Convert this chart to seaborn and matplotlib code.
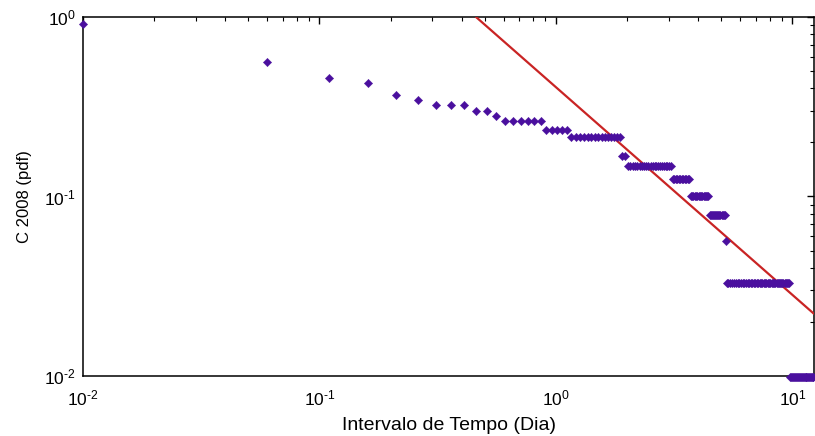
import numpy as np
import pandas as pd
import matplotlib
matplotlib.use("Agg")
import matplotlib.pyplot as plt
import seaborn as sns
from matplotlib.ticker import LogLocator, FuncFormatter, NullFormatter

# ---- data ----
single_x = [0.01, 0.06, 0.11, 0.16, 0.21, 0.26, 0.31, 0.36, 0.41, 0.46, 0.51, 0.56]
single_y = [0.91, 0.565, 0.46, 0.43, 0.37, 0.345, 0.325, 0.325, 0.325, 0.30, 0.30, 0.28]

run1_x = [0.61, 0.66, 0.71, 0.76, 0.81, 0.86]
run1_y = 0.262
run2_x = [0.91, 0.96, 1.01, 1.06, 1.11]
run2_y = 0.236
run3_x = [1.16, 1.21, 1.26, 1.31, 1.36, 1.41, 1.46, 1.51, 1.56, 1.61, 1.66, 1.71,
          1.76, 1.81, 1.86]
run3_y = 0.215
run4_x = [1.91, 1.96]
run4_y = 0.169
run5_x = [2.01, 2.06, 2.11, 2.16, 2.21, 2.26, 2.31, 2.36, 2.41, 2.46, 2.51, 2.56,
          2.61, 2.66, 2.71, 2.76, 2.81, 2.86, 2.91, 2.96, 3.01, 3.06]
run5_y = 0.147
run6_x = [3.11, 3.16, 3.21, 3.26, 3.31, 3.36, 3.41, 3.46, 3.51, 3.56, 3.61, 3.66]
run6_y = 0.125
run7_x = [3.71, 3.76, 3.81, 3.86, 3.91, 3.96, 4.01, 4.06, 4.11, 4.16, 4.21, 4.26,
          4.31, 4.36, 4.41]
run7_y = 0.1005
run8_x = [4.46, 4.51, 4.56, 4.61, 4.66, 4.71, 4.76, 4.81, 4.86, 4.91, 4.96, 5.01,
          5.06, 5.11, 5.16]
run8_y = 0.0788
run9_x = [5.21]
run9_y = 0.0563
run10_x = [5.26, 5.36, 5.46, 5.56, 5.66, 5.76, 5.86, 5.96, 6.06, 6.16, 6.26, 6.36,
           6.46, 6.56, 6.66, 6.76, 6.86, 6.96, 7.06, 7.16, 7.26, 7.36, 7.46, 7.56,
           7.66, 7.76, 7.86, 7.96, 8.06, 8.16, 8.26, 8.36, 8.46, 8.56, 8.66, 8.76,
           8.86, 8.96, 9.06, 9.16, 9.26, 9.36, 9.46, 9.56, 9.66]
run10_y = 0.0331
run11_x = [9.76, 9.86, 9.96, 10.06, 10.16, 10.26, 10.36, 10.46, 10.56, 10.66, 10.76,
           10.86, 10.96, 11.06, 11.16, 11.26, 11.36, 11.46, 11.56, 11.66, 11.76,
           11.86, 11.96, 12.06, 12.16, 12.26]
run11_y = 0.0099

# fitted power-law line (two end points)
fit_x = [0.459, 12.33]
fit_y = [1.0, 0.0222]

x_ticks = [0.01, 0.1, 1, 10]
y_ticks = [0.01, 0.1, 1]

# ---- assemble ----
xs = list(single_x)
ys = list(single_y)
for rx, ry in [(run1_x, run1_y), (run2_x, run2_y), (run3_x, run3_y), (run4_x, run4_y),
               (run5_x, run5_y), (run6_x, run6_y), (run7_x, run7_y), (run8_x, run8_y),
               (run9_x, run9_y), (run10_x, run10_y), (run11_x, run11_y)]:
    xs += rx
    ys += [ry] * len(rx)
df = pd.DataFrame({"x": xs, "y": ys})
fit_df = pd.DataFrame({"x": fit_x, "y": fit_y})

sns.set_style("white")
plt.rcParams["font.family"] = ["Liberation Sans", "DejaVu Sans"]
plt.rcParams["mathtext.fontset"] = "custom"
plt.rcParams["mathtext.rm"] = "Liberation Sans"
plt.rcParams["mathtext.it"] = "Liberation Sans"
plt.rcParams["mathtext.default"] = "regular"
plt.rcParams["axes.unicode_minus"] = False
plt.rcParams["text.color"] = "black"
plt.rcParams["axes.labelcolor"] = "black"
plt.rcParams["xtick.color"] = "black"
plt.rcParams["ytick.color"] = "black"


def pow10_label(v, pos):
    e = int(round(np.log10(v)))
    s = str(e).replace("-", "\u2010")
    return "10$^{" + s + "}$"


W, H = 815, 436
fig = plt.figure(figsize=(W / 100, H / 100), dpi=100)
L, R, T, B = 83, 814, 17, 376
ax = fig.add_axes([L / W, 1 - B / H, (R - L) / W, (B - T) / H])
ax.set_xscale("log")
ax.set_yscale("log")

sns.lineplot(data=fit_df, x="x", y="y", ax=ax, color="#c92424", linewidth=1.6,
             zorder=3, estimator=None, sort=False)
sns.scatterplot(data=df, x="x", y="y", ax=ax, marker="D", s=18, color="#4a0f9e",
                edgecolor="#4a0f9e", linewidth=0.3, zorder=4, clip_on=False)

ax.set_xlim(0.01, 12.33)
ax.set_ylim(0.01, 1.0)
ax.xaxis.set_minor_locator(LogLocator(base=10, subs=np.arange(2, 10), numticks=20))
ax.yaxis.set_minor_locator(LogLocator(base=10, subs=np.arange(2, 10), numticks=20))
ax.xaxis.set_minor_formatter(NullFormatter())
ax.yaxis.set_minor_formatter(NullFormatter())
ax.set_xticks(x_ticks)
ax.set_yticks(y_ticks)
ax.xaxis.set_major_formatter(FuncFormatter(pow10_label))
ax.yaxis.set_major_formatter(FuncFormatter(pow10_label))

ax.tick_params(which="both", direction="in", top=True, right=True, color="black",
               labelcolor="black")
ax.tick_params(which="major", length=5, width=1.0, labelsize=12.5)
ax.tick_params(axis="x", which="major", pad=9)
ax.tick_params(axis="y", which="major", pad=5)
ax.tick_params(which="minor", length=3, width=0.8)
for s in ax.spines.values():
    s.set_color("black")
    s.set_linewidth(1.1)

ax.set_xlabel("Intervalo de Tempo (Dia)", fontsize=14, labelpad=6, color="black")
ax.set_ylabel("C 2008 (pdf)", fontsize=12, labelpad=9, color="black")
if ax.get_legend() is not None:
    ax.get_legend().remove()

fig.savefig("out.png", dpi=100)
